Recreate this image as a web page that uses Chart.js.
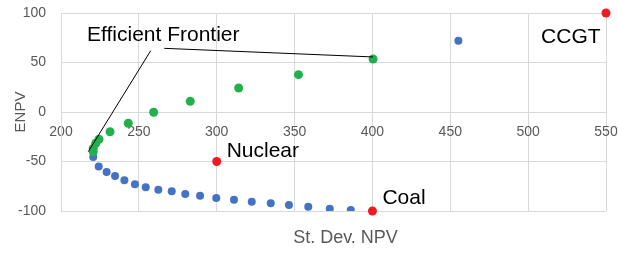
<!DOCTYPE html>
<html>
<head>
<meta charset="utf-8">
<script src="https://cdn.jsdelivr.net/npm/chart.js@4"></script>
<style>
html, body { margin: 0; padding: 0; background: #fff; }
</style>
</head>
<body>
<canvas id="grafica" width="618" height="254"></canvas>
<script>
// ticks
const xTicks = [200, 250, 300, 350, 400, 450, 500, 550];
const yTicks = [-100, -50, 0, 50, 100];

// serie azul (portafolios)
const azulX = [220.7, 224.2, 229.3, 234.7, 240.7, 247.5, 254.4, 262.5, 271.1, 279.8, 289.3, 299.7, 311.1, 322.5, 334.7, 346.4, 358.8, 372.6, 386.1, 455.2];
const azulY = [-45.5, -55, -60.6, -64.6, -68.9, -72.9, -75.9, -78.6, -80.1, -82.8, -84.5, -86.9, -88.6, -90.6, -92.2, -93.9, -95.7, -97.7, -99, 72];

// frontera eficiente (verde)
const verdeX = [220.7, 220.7, 222.3, 224.4, 231.5, 243.2, 259.5, 283.0, 314.1, 352.5, 400.4];
const verdeY = [-40.1, -36.7, -31.6, -27.5, -19.9, -11.4, -0.3, 10.8, 24.2, 37.7, 53.5];

// tecnologias (rojo)
const tecnologias = ['CCGT', 'Nuclear', 'Coal'];
const rojoX = [550, 300, 400];
const rojoY = [100, -50, -100];

// lineas de la etiqueta
const linea1X = [257.6, 217.5];
const linea1Y = [61.9, -40.1];
const linea2X = [266.3, 400.4];
const linea2Y = [64.3, 55.6];

// etiquetas de texto
const etiquetaTexto = ['Efficient Frontier', 'CCGT', 'Nuclear', 'Coal'];
const etiquetaX = [216.7, 508.3, 306.4, 406.4];
const etiquetaY = [77.3, 75.6, -40.1, -86.9];

const puntos = (xs, ys) => xs.map((x, i) => ({ x: x, y: ys[i] }));

const gris = '#d9d9d9';
const fuente = '"Liberation Sans", Arial, sans-serif';

const etiquetas = {
    id: 'etiquetas',
    afterLayout(chart) {
        // el titulo del eje x va un poco a la derecha, como en excel
        chart.scales.x2.left += 24;
    },
    afterDatasetsDraw(chart) {
        const ctx = chart.ctx;
        const sx = chart.scales.x;
        const sy = chart.scales.y;
        ctx.save();
        ctx.font = '21px ' + fuente;
        ctx.fillStyle = '#000';
        ctx.textAlign = 'left';
        ctx.textBaseline = 'middle';
        etiquetaTexto.forEach((t, i) => {
            ctx.fillText(t, sx.getPixelForValue(etiquetaX[i]), sy.getPixelForValue(etiquetaY[i]));
        });
        ctx.restore();
    }
};

new Chart(document.getElementById('grafica'), {
    type: 'scatter',
    data: {
        datasets: [
            { data: puntos(linea1X, linea1Y), showLine: true, borderColor: '#000', borderWidth: 1, pointRadius: 0, order: 0 },
            { data: puntos(linea2X, linea2Y), showLine: true, borderColor: '#000', borderWidth: 1, pointRadius: 0, order: 0 },
            { label: 'Tecnologias', data: puntos(rojoX, rojoY), backgroundColor: '#ed1c24', borderWidth: 0, pointRadius: 4.5, clip: false, order: 1 },
            { label: 'Frontera', data: puntos(verdeX, verdeY), backgroundColor: '#21b04b', borderWidth: 0, pointRadius: 4.5, order: 2 },
            { label: 'Portafolios', data: puntos(azulX, azulY), backgroundColor: '#4472c4', borderWidth: 0, pointRadius: 4, order: 3 }
        ]
    },
    options: {
        responsive: false,
        animation: false,
        devicePixelRatio: 1,
        layout: { autoPadding: false, padding: { top: 13, right: 12, left: 0, bottom: 0 } },
        plugins: { legend: { display: false }, tooltip: { enabled: false } },
        scales: {
            x: {
                type: 'linear',
                position: { y: 0 },
                min: xTicks[0],
                max: xTicks[xTicks.length - 1],
                ticks: { stepSize: xTicks[1] - xTicks[0], color: '#595959', font: { family: fuente, size: 14 }, padding: 12 },
                grid: { color: gris, drawTicks: false },
                border: { color: gris },
                afterFit: s => { s.height = 0; s.paddingLeft = 0; s.paddingRight = 0; }
            },
            x2: {
                type: 'linear',
                position: 'bottom',
                ticks: { display: false },
                grid: { display: false, drawTicks: false },
                border: { display: false },
                title: { display: true, text: 'St. Dev. NPV', color: '#595959', font: { family: fuente, size: 18 }, padding: { top: 0, bottom: 5 } },
                afterFit: s => { s.height = 43; }
            },
            y: {
                type: 'linear',
                position: 'left',
                min: yTicks[0],
                max: yTicks[yTicks.length - 1],
                ticks: { stepSize: yTicks[1] - yTicks[0], color: '#595959', font: { family: fuente, size: 14 }, padding: 15 },
                grid: { color: gris, drawTicks: false },
                border: { color: gris },
                title: { display: true, text: 'ENPV', color: '#595959', font: { family: fuente, size: 15 }, padding: { top: 12, bottom: 0 } },
                afterFit: s => { s.width = 61; s.paddingTop = 0; s.paddingBottom = 0; }
            }
        }
    },
    plugins: [etiquetas]
});
</script>
</body>
</html>
